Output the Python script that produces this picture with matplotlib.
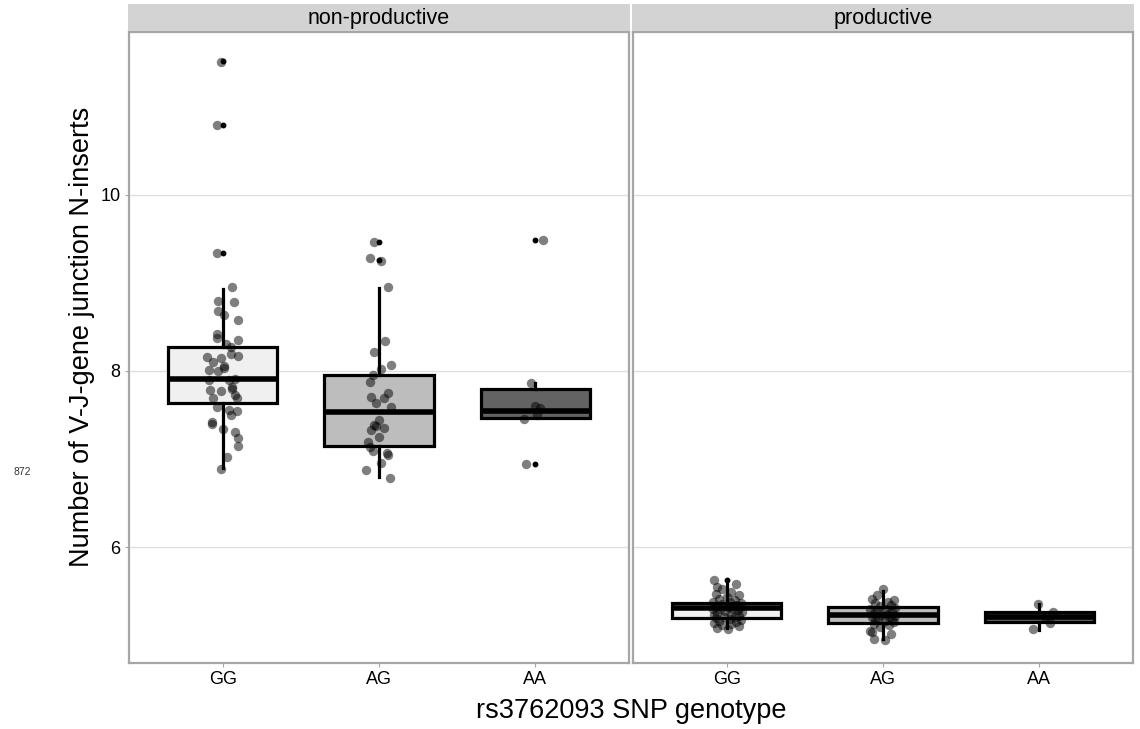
import matplotlib
matplotlib.use("Agg")
import matplotlib.pyplot as plt
import numpy as np

plt.rcParams['font.family'] = ['Liberation Sans', 'DejaVu Sans']

genotypes = ["GG", "AG", "AA"]
facets = ["non-productive", "productive"]
fills = ["#f0f0f0", "#bdbdbd", "#636363"]

# box statistics: (whislo, q1, med, q3, whishi, fliers)
box_np = [
    (6.90, 7.64, 7.91, 8.27, 8.93, [9.34, 10.80, 11.52]),
    (6.80, 7.15, 7.53, 7.95, 8.94, [9.26, 9.47]),
    (7.47, 7.47, 7.54, 7.80, 7.86, [6.94, 9.49]),
]
box_p = [
    (5.08, 5.19, 5.31, 5.36, 5.59, [5.62]),
    (4.95, 5.14, 5.23, 5.32, 5.50, []),
    (5.06, 5.15, 5.20, 5.26, 5.35, []),
]

# jittered sample values (value, horizontal jitter in category units)
np_gg_y = [11.51, 10.80, 9.34, 8.95, 8.80, 8.78, 8.68, 8.64, 8.58, 8.42, 8.38, 8.35,
           8.31, 8.27, 8.19, 8.17, 8.16, 8.15, 8.10, 8.06, 8.03, 8.01, 8.00, 7.90,
           7.90, 7.91, 7.78, 7.77, 7.82, 7.79, 7.73, 7.69, 7.69, 7.59, 7.56, 7.55,
           7.50, 7.42, 7.40, 7.34, 7.31, 7.24, 7.15, 7.02, 6.89]
np_gg_dx = [-0.01, -0.04, -0.04, 0.06, -0.03, 0.07, -0.03, 0.01, 0.10, -0.04, -0.04, 0.10,
            0.02, 0.05, 0.05, 0.10, -0.10, -0.01, -0.06, 0.01, 0.01, -0.09, -0.03, -0.09,
            0.04, 0.08, -0.08, -0.01, 0.06, 0.06, 0.08, -0.06, 0.09, -0.04, 0.04, 0.09,
            0.05, -0.07, -0.07, 0.00, 0.08, 0.10, 0.10, 0.03, -0.01]
np_ag_y = [9.47, 9.28, 9.25, 8.95, 8.34, 8.22, 8.07, 8.02, 7.95, 7.88, 7.75, 7.70,
           7.69, 7.64, 7.59, 7.44, 7.39, 7.37, 7.33, 7.35, 7.25, 7.19, 7.14, 7.09,
           7.07, 7.05, 6.95, 6.88, 6.78]
np_ag_dx = [-0.03, -0.06, 0.01, 0.06, 0.04, -0.03, 0.08, 0.01, -0.04, -0.06, 0.06, -0.05,
            0.03, -0.02, 0.08, 0.00, -0.03, -0.02, -0.05, 0.03, 0.00, -0.07, -0.06, -0.04,
            0.05, 0.06, 0.01, -0.08, 0.07]
np_aa_y = [9.49, 7.86, 7.60, 7.58, 7.50, 7.45, 6.94]
np_aa_dx = [0.05, -0.03, 0.00, 0.03, 0.01, -0.07, -0.06]

p_gg_y = [5.62, 5.58, 5.55, 5.52, 5.49, 5.47, 5.45, 5.43, 5.41, 5.40, 5.38, 5.37,
          5.36, 5.35, 5.34, 5.33, 5.32, 5.31, 5.30, 5.30, 5.29, 5.28, 5.27, 5.26,
          5.25, 5.24, 5.23, 5.22, 5.21, 5.20, 5.19, 5.18, 5.17, 5.16, 5.15, 5.14,
          5.13, 5.11, 5.10, 5.08, 5.07]
p_gg_dx = [-0.08, 0.06, -0.06, -0.03, 0.03, -0.07, 0.08, 0.00, -0.05, 0.05, -0.09, 0.02,
           0.09, -0.03, 0.06, -0.07, 0.01, 0.08, -0.04, 0.04, -0.09, 0.07, -0.01, 0.10,
           -0.06, 0.03, -0.08, 0.08, -0.02, 0.05, -0.07, 0.02, 0.09, -0.05, 0.06, -0.08,
           0.03, -0.03, 0.08, -0.06, 0.01]
p_ag_y = [5.52, 5.45, 5.41, 5.40, 5.38, 5.36, 5.34, 5.33, 5.31, 5.30, 5.29, 5.28,
          5.27, 5.25, 5.24, 5.23, 5.22, 5.21, 5.20, 5.19, 5.18, 5.17, 5.16, 5.15,
          5.13, 5.11, 5.09, 5.05, 5.03, 5.01, 4.96, 4.94]
p_ag_dx = [0.00, -0.04, -0.07, 0.07, 0.03, -0.05, 0.05, -0.02, 0.08, -0.08, 0.02, -0.04,
           0.06, -0.06, 0.03, -0.01, 0.08, -0.07, 0.04, -0.03, 0.06, -0.05, 0.01, 0.07,
           -0.06, 0.04, -0.02, -0.08, -0.07, 0.05, -0.06, 0.01]
p_aa_y = [5.35, 5.26, 5.20, 5.14, 5.07]
p_aa_dx = [-0.01, 0.09, 0.04, 0.07, -0.04]

points = {
    "non-productive": [(np_gg_y, np_gg_dx), (np_ag_y, np_ag_dx), (np_aa_y, np_aa_dx)],
    "productive": [(p_gg_y, p_gg_dx), (p_ag_y, p_ag_dx), (p_aa_y, p_aa_dx)],
}
boxes = {"non-productive": box_np, "productive": box_p}

W, H = 1140, 729
fig = plt.figure(figsize=(W / 100, H / 100), dpi=100)

def px(x0, y0, x1, y1):
    return [x0 / W, 1 - y1 / H, (x1 - x0) / W, (y1 - y0) / H]

panel_x = [(129, 629), (633, 1133)]
border = "#a6a6a6"

for i, facet in enumerate(facets):
    x0, x1 = panel_x[i]
    ax = fig.add_axes(px(x0, 32, x1, 663))
    ax.set_xlim(0.4, 3.6)
    ax.set_ylim(4.682, 11.852)
    ax.set_yticks([6, 8, 10])
    ax.yaxis.grid(True, color="#dedede", linewidth=0.9)
    ax.set_axisbelow(True)
    for s in ax.spines.values():
        s.set_color(border)
        s.set_linewidth(1.6)
    ax.set_xticks([1, 2, 3])
    ax.set_xticklabels(genotypes)
    ax.tick_params(axis="both", length=3, color=border, labelsize=13, pad=3)
    if i == 0:
        ax.set_yticklabels(["6", "8", "10"])
    else:
        ax.tick_params(axis="y", left=False, labelleft=False)

    stats = []
    for (lo, q1, med, q3, hi, fl) in boxes[facet]:
        stats.append(dict(whislo=lo, q1=q1, med=med, q3=q3, whishi=hi, fliers=fl))
    bp = ax.bxp(stats, positions=[1, 2, 3], widths=0.7, patch_artist=True,
                showcaps=False,
                boxprops=dict(linewidth=2.3, edgecolor="black"),
                whiskerprops=dict(linewidth=2.3, color="black"),
                medianprops=dict(linewidth=4, color="black", solid_capstyle="butt"),
                flierprops=dict(marker="o", markersize=3.2, markerfacecolor="black",
                                markeredgecolor="black", linestyle="none"),
                manage_ticks=False)
    for patch, c in zip(bp["boxes"], fills):
        patch.set_facecolor(c)
        patch.set_zorder(2)

    for k, (ys, dxs) in enumerate(points[facet]):
        xs = [k + 1 + d for d in dxs]
        ax.scatter(xs, ys, s=46, color="black", alpha=0.5, linewidths=0, zorder=4)

    # facet strip
    sx = fig.add_axes(px(x0 - 1, 4, x1 + 1, 31))
    sx.set_facecolor("#d3d3d3")
    sx.set_xticks([])
    sx.set_yticks([])
    for s in sx.spines.values():
        s.set_visible(False)
    sx.text(0.5, 0.45, facet, ha="center", va="center", fontsize=15.5,
            transform=sx.transAxes)

fig.text(631 / W, 1 - 711 / H, "rs3762093 SNP genotype", ha="center", va="center",
         fontsize=19.5)
fig.text(82 / W, 1 - 337 / H, "Number of V-J-gene junction N-inserts", ha="center",
         va="center", rotation=90, fontsize=19.5)
fig.text(22 / W, 1 - 472 / H, "872", ha="center", va="center", fontsize=7.5,
         color="#333333")

fig.savefig("out.png", dpi=100)
